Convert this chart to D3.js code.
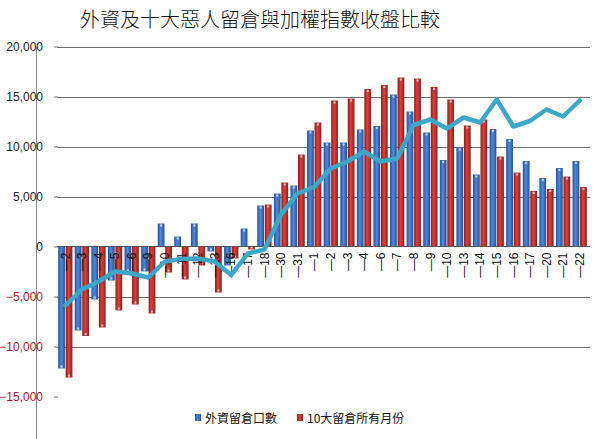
<!DOCTYPE html>
<html><head><meta charset="utf-8">
<script src="https://cdn.jsdelivr.net/npm/d3@7"></script>
<style>body{margin:0;background:#fff}svg{display:block}</style>
</head><body>
<script>
const title = "外資及十大惡人留倉與加權指數收盤比較";
const categories = ["—2","—3","—4","—5","—6","—9","—10","—11","—12","—13","—16","—17","—18","—30","—31","—1","—2","—3","—4","—6","—7","—8","—9","—10","—13","—14","—15","—16","—17","—20","—21","—22"];
const foreignOI = [-12200,-8400,-5300,-3400,-2600,-2500,2300,1000,2300,-500,-1900,1800,4100,5300,6100,11600,10400,10400,11700,12050,15200,13500,11400,8650,9900,7200,11750,10750,8550,6850,7850,8550];
const top10OI = [-13100,-8950,-8100,-6400,-5800,-6700,-2600,-3300,-1900,-4600,-1200,-300,4200,6400,9200,12400,14600,14800,15750,16150,16900,16800,15950,14700,12100,12700,9000,7400,5550,5750,7000,5950];
const indexLine = [-5900,-4300,-3500,-2500,-2700,-3100,-1500,-1250,-1200,-1500,-2850,-700,-300,3200,5300,5950,7800,8500,9500,8500,8800,12150,12700,11800,12900,12400,14700,12000,12550,13700,13000,14600];
const yTicks = [-15000,-10000,-5000,0,5000,10000,15000,20000];
const legendLabels = ["外資留倉口數","10大留倉所有月份"];

const W = 600, H = 439;
const svg = d3.select("body").append("svg").attr("width", W).attr("height", H);
const defs = svg.append("defs");
function cyl(id, dark, light) {
  const g = defs.append("linearGradient").attr("id", id).attr("x1","0").attr("x2","1").attr("y1","0").attr("y2","0");
  g.append("stop").attr("offset","0%").attr("stop-color", dark);
  g.append("stop").attr("offset","45%").attr("stop-color", light);
  g.append("stop").attr("offset","100%").attr("stop-color", dark);
}
cyl("gBlue", "#1f519f", "#4f8ad8");
cyl("gRed", "#901b1b", "#dc4339");

const x = d3.scaleBand().domain(d3.range(categories.length)).range([57, 588]).paddingInner(0.14).paddingOuter(0.07);
const xs = d3.scaleBand().domain([0,1]).range([0, x.bandwidth()]).paddingInner(0.1);
const y = d3.scaleLinear().domain([-15000, 20000]).range([396.5, 46.5]);

// frame line on left
svg.append("line").attr("x1", 36.5).attr("x2", 36.5).attr("y1", 47).attr("y2", H).attr("stroke", "#8a8a8a");

// gridlines
svg.append("g").selectAll("line").data(yTicks.filter(v => v !== 0 && v > -15000)).join("line")
  .attr("x1", 57).attr("x2", 590).attr("y1", d => Math.round(y(d)) + 0.5).attr("y2", d => Math.round(y(d)) + 0.5)
  .attr("stroke", "#6e6e6e").attr("stroke-width", 1);

// y axis labels + ticks
const yAxis = d3.axisLeft(y).tickValues(yTicks).tickSize(4).tickPadding(11).tickFormat(d3.format(","));
const ya = svg.append("g").attr("transform", "translate(58,0)").call(yAxis);
ya.select(".domain").remove();
ya.selectAll(".tick line").attr("stroke", "#777");
ya.selectAll("text").attr("font-family", "Liberation Sans, Arial, sans-serif").attr("font-size", 12)
  .attr("fill", d => d < 0 ? "#c0102a" : "#222");

// bars
const series = [foreignOI, top10OI];
const fills = ["url(#gBlue)", "url(#gRed)"];
series.forEach((vals, si) => {
  const g = svg.append("g");
  g.selectAll("rect.bar").data(vals).join("rect").attr("class", "bar")
    .attr("x", (d, i) => x(i) + xs(si))
    .attr("width", xs.bandwidth())
    .attr("y", d => y(Math.max(0, d)))
    .attr("height", d => Math.abs(y(d) - y(0)))
    .attr("fill", fills[si]);
  g.selectAll("rect.hl").data(vals).join("rect").attr("class", "hl")
    .attr("x", (d, i) => x(i) + xs(si) + xs.bandwidth()/2 - 1)
    .attr("y", d => d >= 0 ? y(d) + 1 : y(d) - 3)
    .attr("width", 2).attr("height", 2)
    .attr("fill", "#e8eef8").attr("opacity", 0.8);
});

// zero axis line
svg.append("line").attr("x1", 57).attr("x2", 590).attr("y1", Math.round(y(0)) + 0.5).attr("y2", Math.round(y(0)) + 0.5)
  .attr("stroke", "#555");

// x labels
const xAxis = d3.axisBottom(x).tickSize(0).tickFormat(i => categories[i]);
const xa = svg.append("g").attr("transform", `translate(0,${y(0)})`).call(xAxis);
xa.select(".domain").remove();
xa.selectAll("text")
  .attr("font-family", "Liberation Sans, Arial, sans-serif").attr("font-size", 12).attr("fill", "#111")
  .attr("text-anchor", "end").attr("dy", "0.35em").attr("y", 0)
  .attr("transform", "translate(0,6) rotate(-90)");

// line
const line = d3.line().x((d, i) => x(i) + x.bandwidth()/2).y(d => y(d));
svg.append("path").datum(indexLine).attr("d", line).attr("fill", "none")
  .attr("stroke", "#3ba7c9").attr("stroke-width", 4.5).attr("stroke-linejoin", "round").attr("stroke-linecap", "round");

// title
svg.append("text").attr("x", 260).attr("y", 27).attr("text-anchor", "middle")
  .attr("font-family", "Noto Sans CJK TC, sans-serif").attr("font-weight", 300).attr("font-size", 20).attr("fill", "#111").text(title);

// legend
const lg = svg.append("g");
const lx = [195, 297];
legendLabels.forEach((t, i) => {
  lg.append("rect").attr("x", lx[i]).attr("y", 414).attr("width", 6).attr("height", 7).attr("fill", fills[i]);
  lg.append("text").attr("x", lx[i] + 10).attr("y", 423).attr("font-family", "Noto Sans CJK TC, sans-serif")
    .attr("font-size", 12).attr("fill", "#111").text(t);
});
</script>
</body></html>
